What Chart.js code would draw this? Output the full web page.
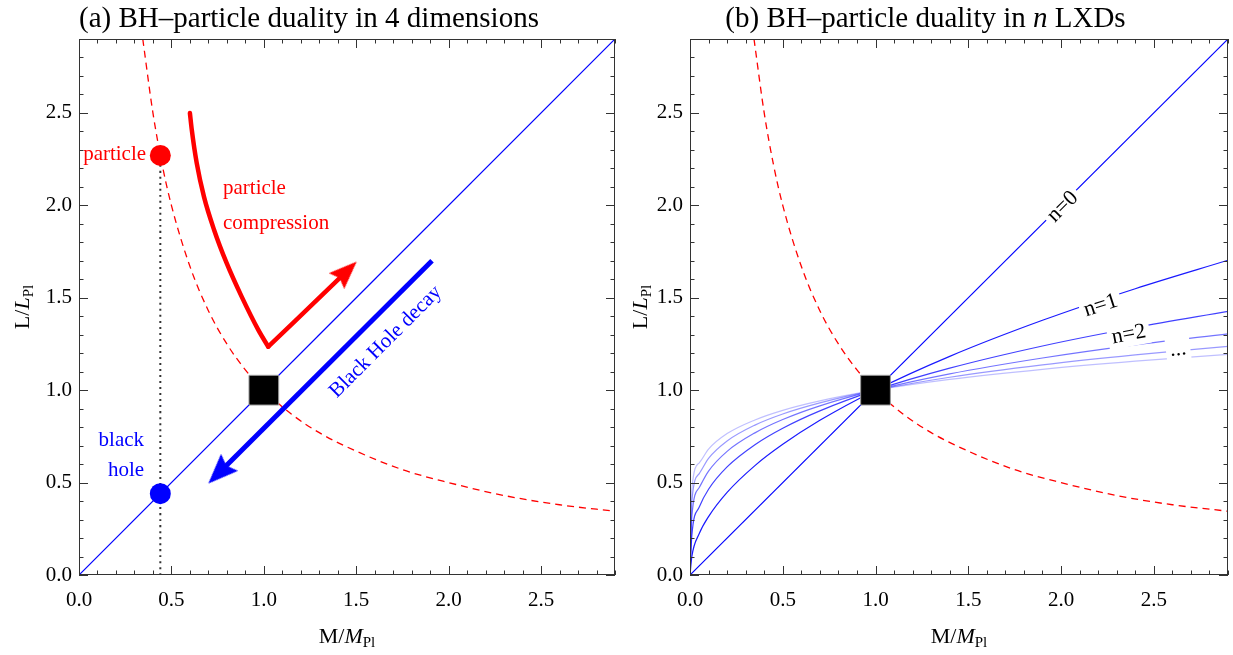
<!DOCTYPE html>
<html>
<head>
<meta charset="utf-8">
<script src="https://cdn.jsdelivr.net/npm/chart.js@4.4.1/dist/chart.umd.min.js"></script>
<style>
  html, body { margin: 0; padding: 0; background: #fff; }
  #wrap { position: relative; width: 1233px; height: 655px; }
  canvas { position: absolute; top: 0; }
  #left { left: 0; }
  #right { left: 618px; }
</style>
</head>
<body>
<div id="wrap">
  <canvas id="left" width="618" height="655"></canvas>
  <canvas id="right" width="615" height="655"></canvas>
</div>
<script>
const SERIF = "'Liberation Serif', 'DejaVu Serif', serif";

// dashed red curve (L = 1/M)
const comptonM = [0.345, 0.4, 0.45, 0.5, 0.6, 0.7, 0.8, 0.9, 1.0, 1.15, 1.3, 1.5, 1.75, 2.0, 2.3, 2.6, 2.9];
const comptonL = [2.9, 2.5, 2.22, 2.0, 1.67, 1.43, 1.25, 1.11, 1.0, 0.87, 0.77, 0.67, 0.57, 0.5, 0.43, 0.38, 0.345];

// thin blue diagonal (Schwarzschild radius, n=0)
const diagM = [0, 2.9];
const diagL = [0, 2.9];

// marked states in panel (a)
const particleM = [0.44], particleL = [2.27];
const holeM = [0.44], holeL = [0.44];
const dottedM = [0.44, 0.44], dottedL = [0, 2.27];
const planckM = [1], planckL = [1];

// thick red "particle compression" path: curved part, then straight arrow shaft
const compressM = [0.60, 0.61, 0.637, 0.676, 0.731, 0.799, 0.88, 0.97, 1.024];
const compressL = [2.50, 2.41, 2.228, 2.047, 1.867, 1.687, 1.506, 1.326, 1.235];
const shaftM = [1.024, 1.448];
const shaftL = [1.235, 1.643];
const compressHeadM = [1.448], compressHeadL = [1.643];

// thick blue "Black Hole decay" arrow
const decayM = [1.91, 0.757];
const decayL = [1.70, 0.552];
const decayHeadM = [0.757], decayHeadL = [0.552];

// panel (b): L(M) for n large extra dimensions
const nM = [0, 0.01, 0.05, 0.1, 0.2, 0.35, 0.5, 0.7, 1.0, 1.4, 1.9, 2.4, 2.9];
const nL1 = [0, 0.10, 0.224, 0.316, 0.447, 0.592, 0.707, 0.837, 1.0, 1.183, 1.378, 1.549, 1.703];
const nL2 = [0, 0.215, 0.368, 0.464, 0.585, 0.705, 0.794, 0.888, 1.0, 1.119, 1.239, 1.339, 1.426];
const nL3 = [0, 0.316, 0.473, 0.562, 0.669, 0.769, 0.841, 0.915, 1.0, 1.088, 1.174, 1.245, 1.305];
const nL4 = [0, 0.398, 0.549, 0.631, 0.725, 0.811, 0.871, 0.931, 1.0, 1.070, 1.137, 1.191, 1.237];
const nL5 = [0, 0.464, 0.607, 0.681, 0.765, 0.839, 0.891, 0.942, 1.0, 1.058, 1.113, 1.157, 1.194];

const tickValues = [0, 0.5, 1.0, 1.5, 2.0, 2.5];

const pts = (xs, ys) => xs.map((x, i) => ({ x: x, y: ys[i] }));

// arrowhead pointing up, centred on the canvas so the point sits mid-head
function arrowHead(color, len, wid) {
  const c = document.createElement('canvas');
  c.width = wid; c.height = len;
  const g = c.getContext('2d');
  g.fillStyle = color;
  g.beginPath();
  g.moveTo(wid / 2, 0);
  g.lineTo(wid, len);
  g.lineTo(wid / 2, len * 0.85);
  g.lineTo(0, len);
  g.closePath();
  g.fill();
  return c;
}

function curve(data, color, width, extra) {
  return Object.assign({
    data: data, showLine: true, borderColor: color, borderWidth: width,
    pointRadius: 0, fill: false, cubicInterpolationMode: 'monotone'
  }, extra || {});
}

function marker(data, color, style, radius, extra) {
  return Object.assign({
    data: data, showLine: false, pointStyle: style, pointRadius: radius,
    pointBackgroundColor: color, pointBorderColor: color, pointBorderWidth: 0
  }, extra || {});
}

function drawRich(ctx, parts, x, y) {
  let total = 0;
  parts.forEach(p => { ctx.font = p.font; p.w = ctx.measureText(p.t).width; total += p.w; });
  let cx = x - total / 2;
  ctx.textAlign = 'left';
  ctx.textBaseline = 'alphabetic';
  parts.forEach(p => { ctx.font = p.font; ctx.fillText(p.t, cx, y + (p.dy || 0)); cx += p.w; });
}

function decor(title, notes) {
  return {
    id: 'decor',
    afterDatasetsDraw(chart) {
      const { ctx, chartArea: a, scales: { x, y } } = chart;
      // text notes
      notes.forEach(n => {
        ctx.save();
        ctx.translate(x.getPixelForValue(n.x), y.getPixelForValue(n.y));
        ctx.rotate((n.rot || 0) * Math.PI / 180);
        ctx.font = `${n.size || 21}px ${SERIF}`;
        ctx.textAlign = n.align || 'center';
        ctx.textBaseline = 'middle';
        if (n.bg) {
          const w = ctx.measureText(n.text).width;
          const x0 = ctx.textAlign === 'center' ? -w / 2 : (ctx.textAlign === 'right' ? -w : 0);
          ctx.fillStyle = '#fff';
          ctx.fillRect(x0 - 4, -12, w + 8, 24);
        }
        ctx.fillStyle = n.color || '#000';
        ctx.fillText(n.text, 0, 0);
        ctx.restore();
      });
      // frame with inward ticks on all four sides
      ctx.save();
      ctx.strokeStyle = '#333';
      ctx.lineWidth = 1;
      ctx.beginPath();
      for (let i = 0; i <= 29; i++) {
        const v = i / 10;
        const len = i % 5 === 0 ? 9 : 4.5;
        const px = Math.round(x.getPixelForValue(v)) + 0.5;
        const py = Math.round(y.getPixelForValue(v)) + 0.5;
        ctx.moveTo(px, a.bottom); ctx.lineTo(px, a.bottom - len);
        ctx.moveTo(px, a.top); ctx.lineTo(px, a.top + len);
        ctx.moveTo(a.left, py); ctx.lineTo(a.left + len, py);
        ctx.moveTo(a.right, py); ctx.lineTo(a.right - len, py);
      }
      ctx.stroke();
      ctx.strokeRect(Math.round(a.left) + 0.5, Math.round(a.top) + 0.5,
        Math.round(a.right - a.left) - 1, Math.round(a.bottom - a.top) - 1);
      ctx.restore();
    },
    afterDraw(chart) {
      const { ctx, chartArea: a } = chart;
      ctx.save();
      ctx.fillStyle = '#000';
      drawRich(ctx, title, chart.width / 2, 27);
      const cx = (a.left + a.right) / 2;
      drawRich(ctx, [
        { t: 'M/', font: `22px ${SERIF}` },
        { t: 'M', font: `italic 22px ${SERIF}` },
        { t: 'Pl', font: `15px ${SERIF}`, dy: 4 }
      ], cx, 643);
      ctx.translate(29, (a.top + a.bottom) / 2);
      ctx.rotate(-Math.PI / 2);
      drawRich(ctx, [
        { t: 'L/', font: `22px ${SERIF}` },
        { t: 'L', font: `italic 22px ${SERIF}` },
        { t: 'Pl', font: `15px ${SERIF}`, dy: 4 }
      ], 0, 0);
      ctx.restore();
    }
  };
}

function scales(yWidth) {
  const tickFont = { family: SERIF, size: 21 };
  return {
    x: {
      type: 'linear', min: 0, max: 2.9,
      grid: { display: false, drawTicks: false }, border: { display: false },
      afterBuildTicks: s => { s.ticks = tickValues.map(v => ({ value: v })); },
      ticks: { padding: 13, color: '#000', font: tickFont, maxRotation: 0, callback: v => v.toFixed(1) },
      afterFit: s => { s.height = 80; }
    },
    y: {
      type: 'linear', min: 0, max: 2.9,
      grid: { display: false, drawTicks: false }, border: { display: false },
      afterBuildTicks: s => { s.ticks = tickValues.map(v => ({ value: v })); },
      ticks: { padding: 7, color: '#000', font: tickFont, callback: v => v.toFixed(1) },
      afterFit: s => { s.width = yWidth; }
    }
  };
}

function baseOptions(yWidth, padRight) {
  return {
    responsive: false,
    animation: false,
    layout: { autoPadding: false, padding: { top: 39, right: padRight, bottom: 0, left: 0 } },
    plugins: { legend: { display: false }, tooltip: { enabled: false }, title: { display: false } },
    scales: scales(yWidth)
  };
}

const RED = '#ff0000';
const BLUE = '#0000ff';

// ---------- panel (a) ----------  (first dataset is drawn on top)
new Chart(document.getElementById('left'), {
  type: 'scatter',
  data: {
    datasets: [
      marker(pts(particleM, particleL), RED, 'circle', 10.5),
      marker(pts(holeM, holeL), BLUE, 'circle', 10.5),
      marker(pts(planckM, planckL), '#000', 'rect', 21, { pointBorderColor: '#999', pointBorderWidth: 1 }),
      marker(pts(compressHeadM, compressHeadL), RED, arrowHead(RED, 28, 22), 12, { pointRotation: 46 }),
      marker(pts(decayHeadM, decayHeadL), BLUE, arrowHead(BLUE, 30, 24), 12, { pointRotation: 225 }),
      curve(pts(decayM, decayL), BLUE, 5),
      curve(pts(shaftM, shaftL), RED, 4.5, { borderCapStyle: 'round' }),
      curve(pts(compressM, compressL), RED, 4.5, { borderCapStyle: 'round' }),
      curve(pts(dottedM, dottedL), '#333', 2, { borderDash: [2, 4] }),
      curve(pts(diagM, diagL), BLUE, 1.2),
      curve(pts(comptonM, comptonL), RED, 1.3, { borderDash: [7, 5] })
    ]
  },
  options: baseOptions(79, 3),
  plugins: [decor(
    [{ t: '(a) BH\u2013particle duality in 4 dimensions', font: `29px ${SERIF}` }],
    [
      { text: 'particle', x: 0.363, y: 2.273, align: 'right', color: RED },
      { text: 'particle', x: 0.779, y: 2.09, align: 'left', color: RED },
      { text: 'compression', x: 0.779, y: 1.90, align: 'left', color: RED },
      { text: 'black', x: 0.352, y: 0.728, align: 'right', color: BLUE },
      { text: 'hole', x: 0.352, y: 0.565, align: 'right', color: BLUE },
      { text: 'Black Hole decay', x: 1.659, y: 1.261, rot: -45, color: BLUE }
    ]
  )]
});

// ---------- panel (b) ----------
new Chart(document.getElementById('right'), {
  type: 'scatter',
  data: {
    datasets: [
      marker(pts(planckM, planckL), '#000', 'rect', 21, { pointBorderColor: '#999', pointBorderWidth: 1 }),
      curve(pts(diagM, diagL), BLUE, 1.2),
      curve(pts(nM, nL1), 'rgba(0,0,255,0.9)', 1.2),
      curve(pts(nM, nL2), 'rgba(0,0,255,0.75)', 1.2),
      curve(pts(nM, nL3), 'rgba(0,0,255,0.55)', 1.2),
      curve(pts(nM, nL4), 'rgba(0,0,255,0.4)', 1.2),
      curve(pts(nM, nL5), 'rgba(0,0,255,0.25)', 1.2),
      curve(pts(comptonM, comptonL), RED, 1.3, { borderDash: [7, 5] })
    ]
  },
  options: baseOptions(72, 5),
  plugins: [decor(
    [
      { t: '(b) BH\u2013particle duality in ', font: `29px ${SERIF}` },
      { t: 'n', font: `italic 29px ${SERIF}` },
      { t: ' LXDs', font: `29px ${SERIF}` }
    ],
    [
      { text: 'n=0', x: 2.009, y: 1.992, rot: -45, bg: true, size: 22 },
      { text: 'n=1', x: 2.214, y: 1.457, rot: -18, bg: true, size: 22 },
      { text: 'n=2', x: 2.365, y: 1.301, rot: -10.7, bg: true, size: 22 },
      { text: '...', x: 2.631, y: 1.221, rot: -7, bg: true, size: 22 }
    ]
  )]
});
</script>
</body>
</html>
